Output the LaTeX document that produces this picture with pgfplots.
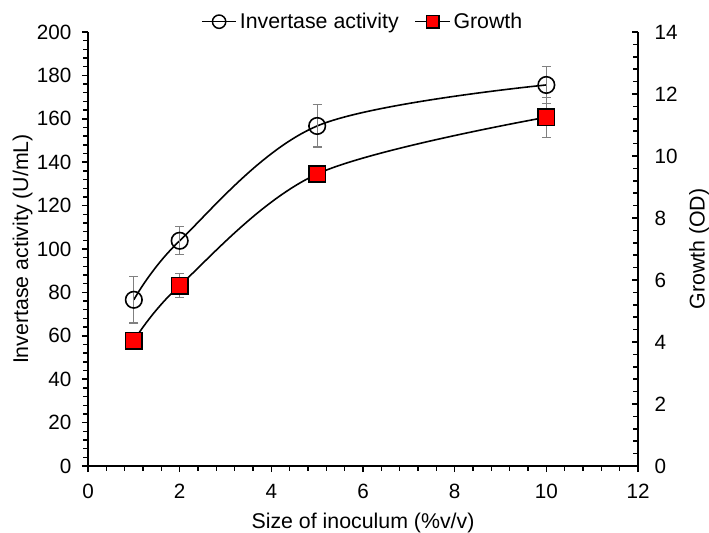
\documentclass[border=0pt]{standalone}
\usepackage{fontspec}
\setmainfont{Liberation Sans}
\usepackage{pgfplots}
\pgfplotsset{compat=1.18}
\begin{document}
\begin{tikzpicture}
\useasboundingbox (-66pt,-49.5pt) rectangle (465.75pt,349.5pt);
\pgfplotsset{
  every axis/.append style={
    scale only axis, width=412.5pt, height=325.5pt,
    at={(0pt,0pt)}, anchor=south west,
    xmin=0, xmax=12, ymin=0,
    font=\fontsize{16}{18}\selectfont,
    tick label style={font=\fontsize{15.5}{17}\selectfont},
    tick align=outside, tick style={black, line width=1.1pt},
    major tick length=4.5pt, minor tick length=3.5pt,
    /pgf/number format/assume math mode=true,
    axis line style={line width=1.2pt},
    clip=false,
  }
}
\begin{axis}[
  ymax=200,
  axis y line*=left, axis x line*=bottom,
  xtick={0,2,...,12}, minor x tick num=4,
  ytick={0,20,...,200}, minor y tick num=4,
  yticklabel shift=4.5pt, xticklabel shift=5.3pt,
  xlabel={Size of inoculum (\%v/v)},
  ylabel={Invertase activity (U/mL)},
  xlabel style={at={(axis description cs:0.5,0)}, anchor=base, yshift=-46.5pt},
  ylabel style={at={([xshift=-49pt]axis description cs:0,0.5)}, anchor=center, rotate=0},
  legend columns=2,
  legend style={draw=none, fill=none, at={(0.5,1.0)}, anchor=south, yshift=-3pt,
    font=\fontsize{16}{18}\selectfont,
    /tikz/every even column/.append style={column sep=10pt}},
  legend cell align=left,
  legend image code/.code={
    \draw[#1, mark=none] (0pt,0pt) -- (26pt,0pt);
    \draw[#1, only marks] plot coordinates {(13pt,0pt)};
  },
]
\addlegendimage{black, line width=1.1pt, mark=o, mark size=5pt, mark options={fill=none}}
\addlegendentry{Invertase activity}
\addlegendimage{black, line width=1.1pt, mark=square*, mark size=4.6pt, mark options={fill=red, draw=black}}
\addlegendentry{Growth}
\addplot[forget plot, black, line width=1.2pt, smooth, tension=0.55, mark=o, mark size=6.2pt, mark options={fill=none, line width=1.2pt},
  error bars/.cd, y dir=both, y explicit, error bar style={gray, line width=0.8pt}, error mark options={gray, rotate=90, mark size=3.4pt, line width=0.8pt}]
  coordinates {
    (1,76.6) +- (0,10.7)
    (2,103.8) +- (0,6.4)
    (5,156.7) +- (0,9.7)
    (10,175.6) +- (0,8.6)
  };
\end{axis}
\begin{axis}[
  ymax=14,
  axis y line*=right, axis x line=none,
  tick align=inside,
  ytick={0,2,...,14}, minor y tick num=4,
  yticklabel shift=9pt,
  ylabel={Growth (OD)},
  ylabel style={at={([xshift=45.75pt]axis description cs:1,0.5)}, anchor=center, rotate=0},
]
\addplot[black, line width=1.2pt, smooth, tension=0.55, mark=square*, mark size=6.2pt, mark options={fill=red, draw=black, line width=1.2pt},
  error bars/.cd, y dir=both, y explicit, error bar style={gray, line width=0.8pt}, error mark options={gray, rotate=90, mark size=3.4pt, line width=0.8pt}]
  coordinates {
    (1,4.04) +- (0,0.1)
    (2,5.82) +- (0,0.38)
    (5,9.42) +- (0,0.2)
    (10,11.25) +- (0,0.65)
  };
\end{axis}
\end{tikzpicture}
\end{document}
